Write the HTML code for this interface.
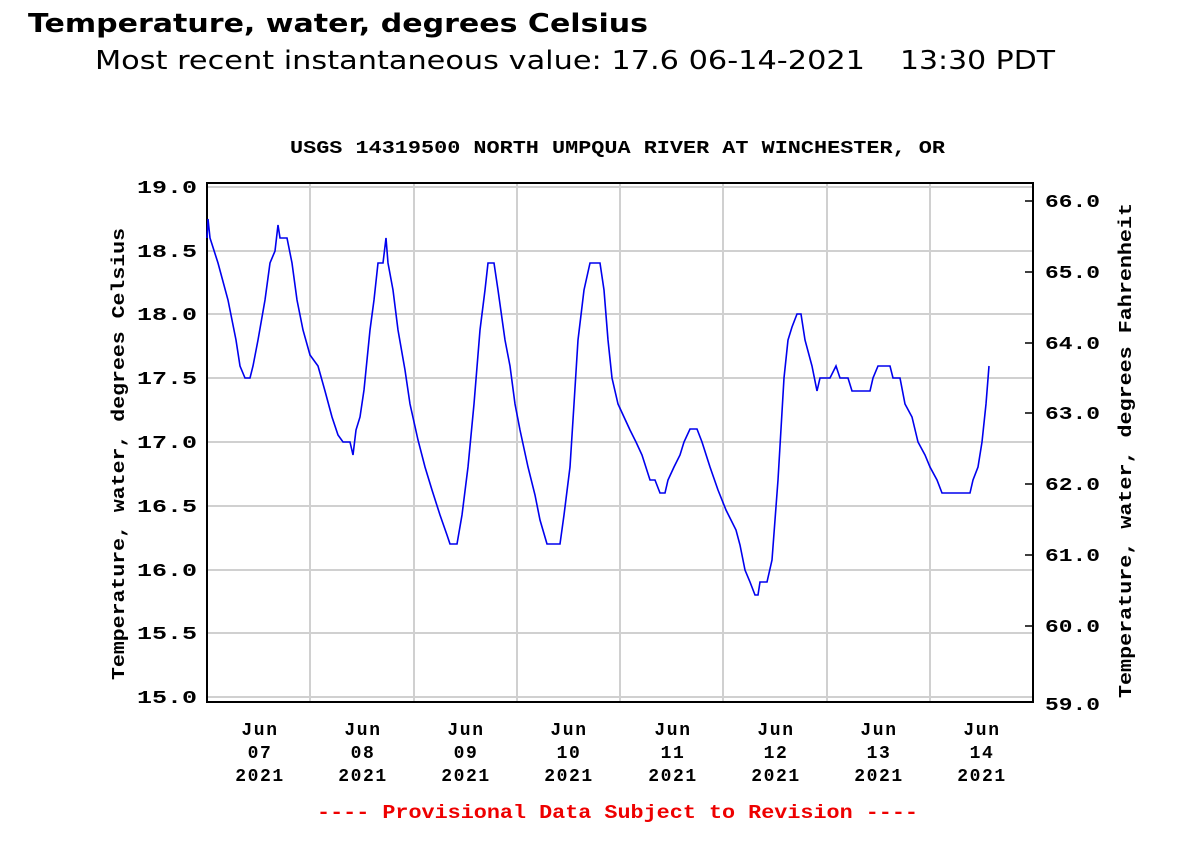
<!DOCTYPE html>
<html><head><style>
body{margin:0;background:#fff;width:1200px;height:844px;overflow:hidden}
</style></head><body>
<svg width="1200" height="844" xmlns="http://www.w3.org/2000/svg">
<text x="28" y="32" font-family="DejaVu Sans, sans-serif" font-weight="bold" font-size="26" textLength="620" lengthAdjust="spacingAndGlyphs">Temperature, water, degrees Celsius</text>
<text x="95" y="69" font-family="DejaVu Sans, sans-serif" font-size="26" textLength="770" lengthAdjust="spacingAndGlyphs">Most recent instantaneous value: 17.6 06-14-2021</text>
<text x="900" y="69" font-family="DejaVu Sans, sans-serif" font-size="26" textLength="155" lengthAdjust="spacingAndGlyphs">13:30 PDT</text>
<g font-family="Liberation Mono, monospace" font-weight="bold" font-size="18">
<text x="290" y="153" textLength="655" lengthAdjust="spacingAndGlyphs">USGS 14319500 NORTH UMPQUA RIVER AT WINCHESTER, OR</text>
<g stroke="#d0d0d0" stroke-width="2">
<line x1="207" y1="187" x2="1033" y2="187"/><line x1="207" y1="251" x2="1033" y2="251"/><line x1="207" y1="314" x2="1033" y2="314"/><line x1="207" y1="378" x2="1033" y2="378"/><line x1="207" y1="442" x2="1033" y2="442"/><line x1="207" y1="506" x2="1033" y2="506"/><line x1="207" y1="570" x2="1033" y2="570"/><line x1="207" y1="633" x2="1033" y2="633"/><line x1="207" y1="697" x2="1033" y2="697"/>
<line x1="310" y1="183" x2="310" y2="702"/><line x1="414" y1="183" x2="414" y2="702"/><line x1="517" y1="183" x2="517" y2="702"/><line x1="620" y1="183" x2="620" y2="702"/><line x1="723" y1="183" x2="723" y2="702"/><line x1="827" y1="183" x2="827" y2="702"/><line x1="930" y1="183" x2="930" y2="702"/>
</g>
<g stroke="#000" stroke-width="1.5">
<line x1="1033" y1="201" x2="1025" y2="201"/><line x1="1033" y1="272" x2="1025" y2="272"/><line x1="1033" y1="343" x2="1025" y2="343"/><line x1="1033" y1="413" x2="1025" y2="413"/><line x1="1033" y1="484" x2="1025" y2="484"/><line x1="1033" y1="555" x2="1025" y2="555"/><line x1="1033" y1="626" x2="1025" y2="626"/>
</g>
<rect x="207" y="183" width="826" height="519" fill="none" stroke="#000" stroke-width="2"/>
<polyline fill="none" stroke="#0000ee" stroke-width="1.6" points="207,238 208,219 210,238 218,263 228,300 236,340 240,366 245,378 250,378 253,366 258,340 265,300 270,263 275,251 278,225 280,238 287,238 292,263 297,300 303,330 310,355 318,366 325,391 332,417 338,435 343,442 350,442 353,455 356,430 360,417 364,390 370,330 374,300 378,263 383,263 386,238 388,263 393,290 398,330 405,370 410,404 418,440 425,467 432,490 440,515 447,535 450,544 457,544 462,515 468,467 474,404 480,330 485,290 488,263 494,263 498,290 505,340 510,366 515,404 520,430 528,467 535,495 540,520 547,544 560,544 564,515 570,467 574,404 578,340 584,290 590,263 600,263 604,290 608,340 612,378 618,404 624,417 630,430 636,442 642,455 650,480 655,480 660,493 665,493 668,480 674,467 680,455 684,442 690,429 697,429 702,442 710,467 718,490 726,510 730,518 736,530 740,545 745,570 750,582 755,595 758,595 760,582 767,582 772,560 778,480 784,378 788,340 792,327 797,314 801,314 805,340 812,366 817,391 820,378 830,378 836,366 840,378 848,378 852,391 870,391 873,378 878,366 890,366 893,378 900,378 905,404 912,417 918,442 925,455 930,467 937,480 942,493 970,493 973,480 978,467 982,442 986,404 989,366"/>
<g>
<text x="137" y="193" textLength="60" lengthAdjust="spacingAndGlyphs">19.0</text><text x="137" y="257" textLength="60" lengthAdjust="spacingAndGlyphs">18.5</text><text x="137" y="320" textLength="60" lengthAdjust="spacingAndGlyphs">18.0</text><text x="137" y="384" textLength="60" lengthAdjust="spacingAndGlyphs">17.5</text><text x="137" y="448" textLength="60" lengthAdjust="spacingAndGlyphs">17.0</text><text x="137" y="512" textLength="60" lengthAdjust="spacingAndGlyphs">16.5</text><text x="137" y="576" textLength="60" lengthAdjust="spacingAndGlyphs">16.0</text><text x="137" y="639" textLength="60" lengthAdjust="spacingAndGlyphs">15.5</text><text x="137" y="703" textLength="60" lengthAdjust="spacingAndGlyphs">15.0</text>
</g>
<g>
<text x="1045" y="207" textLength="55" lengthAdjust="spacingAndGlyphs">66.0</text><text x="1045" y="278" textLength="55" lengthAdjust="spacingAndGlyphs">65.0</text><text x="1045" y="349" textLength="55" lengthAdjust="spacingAndGlyphs">64.0</text><text x="1045" y="419" textLength="55" lengthAdjust="spacingAndGlyphs">63.0</text><text x="1045" y="490" textLength="55" lengthAdjust="spacingAndGlyphs">62.0</text><text x="1045" y="561" textLength="55" lengthAdjust="spacingAndGlyphs">61.0</text><text x="1045" y="632" textLength="55" lengthAdjust="spacingAndGlyphs">60.0</text><text x="1045" y="710" textLength="55" lengthAdjust="spacingAndGlyphs">59.0</text>
</g>
<g text-anchor="middle" letter-spacing="1.6">
<text x="260" y="735">Jun</text><text x="260" y="758">07</text><text x="260" y="781">2021</text>
<text x="363" y="735">Jun</text><text x="363" y="758">08</text><text x="363" y="781">2021</text>
<text x="466" y="735">Jun</text><text x="466" y="758">09</text><text x="466" y="781">2021</text>
<text x="569" y="735">Jun</text><text x="569" y="758">10</text><text x="569" y="781">2021</text>
<text x="673" y="735">Jun</text><text x="673" y="758">11</text><text x="673" y="781">2021</text>
<text x="776" y="735">Jun</text><text x="776" y="758">12</text><text x="776" y="781">2021</text>
<text x="879" y="735">Jun</text><text x="879" y="758">13</text><text x="879" y="781">2021</text>
<text x="982" y="735">Jun</text><text x="982" y="758">14</text><text x="982" y="781">2021</text>
</g>
<text x="317" y="818" fill="#ee0000" font-size="19" textLength="601" lengthAdjust="spacingAndGlyphs">---- Provisional Data Subject to Revision ----</text>
<text transform="translate(124,680) rotate(-90)" textLength="452" lengthAdjust="spacingAndGlyphs">Temperature, water, degrees Celsius</text>
<text transform="translate(1131,698) rotate(-90)" textLength="495" lengthAdjust="spacingAndGlyphs">Temperature, water, degrees Fahrenheit</text>
</g>
</svg>
</body></html>
